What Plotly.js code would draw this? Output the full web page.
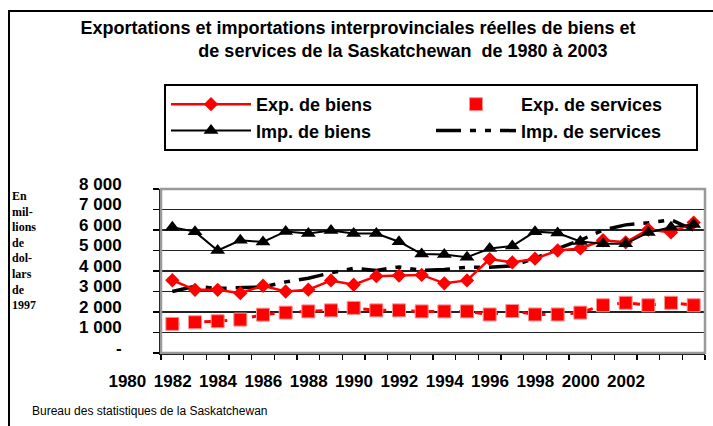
<!DOCTYPE html>
<html>
<head>
<meta charset="utf-8">
<script src="https://cdn.plot.ly/plotly-3.0.1.min.js"></script>
<style>
  html, body { margin: 0; padding: 0; background: #fff; }
  #plot { width: 713px; height: 426px; }
</style>
</head>
<body>
<div id="plot"></div>
<script>
// years 1980 - 2003, millions of 1997 dollars
var years = [1980, 1981, 1982, 1983, 1984, 1985, 1986, 1987, 1988, 1989, 1990, 1991,
             1992, 1993, 1994, 1995, 1996, 1997, 1998, 1999, 2000, 2001, 2002, 2003];

var expBiens = [3550, 3080, 3080, 2920, 3280, 3000, 3090, 3540, 3330, 3750, 3780, 3810,
                3400, 3540, 4580, 4420, 4600, 5000, 5100, 5500, 5400, 6020, 5880, 6360];
var impBiens = [6130, 5920, 5000, 5500, 5420, 5930, 5830, 5970, 5830, 5830, 5430, 4830,
                4800, 4670, 5100, 5220, 5920, 5850, 5440, 5330, 5330, 5880, 6130, 6270];
var expServices = [1420, 1500, 1550, 1630, 1870, 1970, 2030, 2080, 2200, 2080, 2080, 2030,
                   2030, 2030, 1880, 2050, 1880, 1880, 1970, 2330, 2450, 2330, 2450, 2330];
var impServices = [3000, 3250, 3150, 3170, 3220, 3470, 3650, 3910, 4130, 4030, 4200, 4030,
                   4070, 4180, 4180, 4250, 4620, 5090, 5500, 6000, 6250, 6350, 6500, 6000];

var yTicks = [0, 1000, 2000, 3000, 4000, 5000, 6000, 7000, 8000];
var yTickLabels = ['-', '1 000', '2 000', '3 000', '4 000', '5 000', '6 000', '7 000', '8 000'];
var xTickYears = [1980, 1982, 1984, 1986, 1988, 1990, 1992, 1994, 1996, 1998, 2000, 2002];

var titleLine1 = 'Exportations et importations interprovinciales réelles de biens et';
var titleLine2 = 'de services de la Saskatchewan  de 1980 à 2003';
var yTitle = 'En<br>mil-<br>lions<br>de<br>dol-<br>lars<br>de<br>1997';
var source = 'Bureau des statistiques de la Saskatchewan';

var W = 713, H = 426;
var bold = {family: 'Liberation Sans, Arial, sans-serif', size: 17, color: '#000', weight: 'bold'};

// category boundaries for the small x tick marks
var bounds = years.map(function(y) { return y - 0.5; });
bounds.push(years[years.length - 1] + 0.5);

var traces = [
  {
    x: years, y: expServices, type: 'scatter', mode: 'lines',
    line: {color: '#ff0000', width: 3, dash: '7px,9px'},
    showlegend: false, hoverinfo: 'skip'
  },
  {
    x: years, y: expServices, type: 'scatter', mode: 'markers',
    name: 'Exp. de services', legendrank: 2,
    marker: {symbol: 'square', size: 13, color: '#ff0000', line: {color: '#ff9090', width: 1}}
  },
  {
    x: years, y: impServices, type: 'scatter', mode: 'lines',
    name: 'Imp. de services', legendrank: 4,
    line: {color: '#000', width: 3.5, dash: '25px,9px,6px,9px,6px,9px'}
  },
  {
    x: years, y: expBiens, type: 'scatter', mode: 'lines+markers',
    name: 'Exp. de biens', legendrank: 1,
    line: {color: '#ff0000', width: 2.5},
    marker: {symbol: 'diamond', size: 11, color: '#ff0000'}
  },
  {
    x: years, y: impBiens, type: 'scatter', mode: 'lines+markers',
    name: 'Imp. de biens', legendrank: 3,
    line: {color: '#000', width: 2},
    marker: {symbol: 'triangle-up', size: 13, color: '#000'}
  }
];

var layout = {
  width: W, height: H,
  margin: {l: 0, r: 0, t: 0, b: 0},
  paper_bgcolor: '#fff', plot_bgcolor: '#fff',
  showlegend: true,
  title: {
    text: titleLine1 + '<br>' + '\u00a0'.repeat(18) + titleLine2,
    font: {family: 'Liberation Sans, Arial, sans-serif', size: 18, color: '#000', weight: 'bold'},
    xref: 'paper', x: 358 / W, xanchor: 'center',
    yref: 'container', y: 1 - 34 / H, yanchor: 'top'
  },
  xaxis: {
    type: 'linear',
    domain: [161 / W, 705 / W],
    range: [1979.5, 2003.5],
    tickmode: 'array', tickvals: xTickYears,
    ticks: '', tickangle: 0,
    ticklabelshift: -45, ticklabelstandoff: 12,
    tickfont: bold,
    minor: {tickvals: bounds, ticks: 'outside', ticklen: 5, tickwidth: 1.5, tickcolor: '#000', showgrid: false},
    showgrid: false, zeroline: false,
    showline: true, linecolor: '#000', linewidth: 2,
    automargin: false
  },
  yaxis: {
    domain: [73 / H, 237 / H],
    range: [0, 8000],
    tickmode: 'array', tickvals: yTicks, ticktext: yTickLabels,
    ticks: 'outside', ticklen: 6, tickwidth: 1.5, tickcolor: '#000',
    ticklabelstandoff: 28, ticklabelshift: -5,
    tickfont: bold,
    showgrid: true, gridcolor: '#222', gridwidth: 1.2,
    zeroline: false,
    showline: true, linecolor: '#000', linewidth: 2,
    automargin: false
  },
  legend: {
    orientation: 'h',
    x: 164 / W, xanchor: 'left',
    y: 1 - 84 / H, yanchor: 'top',
    bgcolor: '#fff', bordercolor: '#000', borderwidth: 2,
    font: {family: 'Liberation Sans, Arial, sans-serif', size: 18, color: '#000', weight: 'bold'},
    itemwidth: 80, entrywidth: 170,
    traceorder: 'normal'
  },
  shapes: [
    // outer frame of the chart
    {type: 'rect', xref: 'paper', yref: 'paper', x0: 9 / W, x1: 1.05, y0: -0.1, y1: 1 - 11 / H,
     line: {color: '#000', width: 2}, layer: 'below'},
    // grey plot border
    {type: 'rect', xref: 'x domain', yref: 'y domain', x0: 0, x1: 1, y0: 0, y1: 1,
     line: {color: '#999', width: 2.5}, layer: 'above'}
  ],
  annotations: [
    {text: yTitle, xref: 'paper', yref: 'paper', x: 10 / W, y: 1 - 187 / H,
     xanchor: 'left', yanchor: 'top', align: 'left', showarrow: false,
     font: {family: 'Liberation Serif, Times New Roman, serif', size: 12, color: '#000', weight: 'bold'}},
    {text: source, xref: 'paper', yref: 'paper', x: 30 / W, y: 1 - 411 / H,
     xanchor: 'left', yanchor: 'middle', showarrow: false,
     font: {family: 'Liberation Sans, Arial, sans-serif', size: 12, color: '#000'}}
  ]
};

Plotly.newPlot('plot', traces, layout, {displayModeBar: false, staticPlot: true});
</script>
</body>
</html>
